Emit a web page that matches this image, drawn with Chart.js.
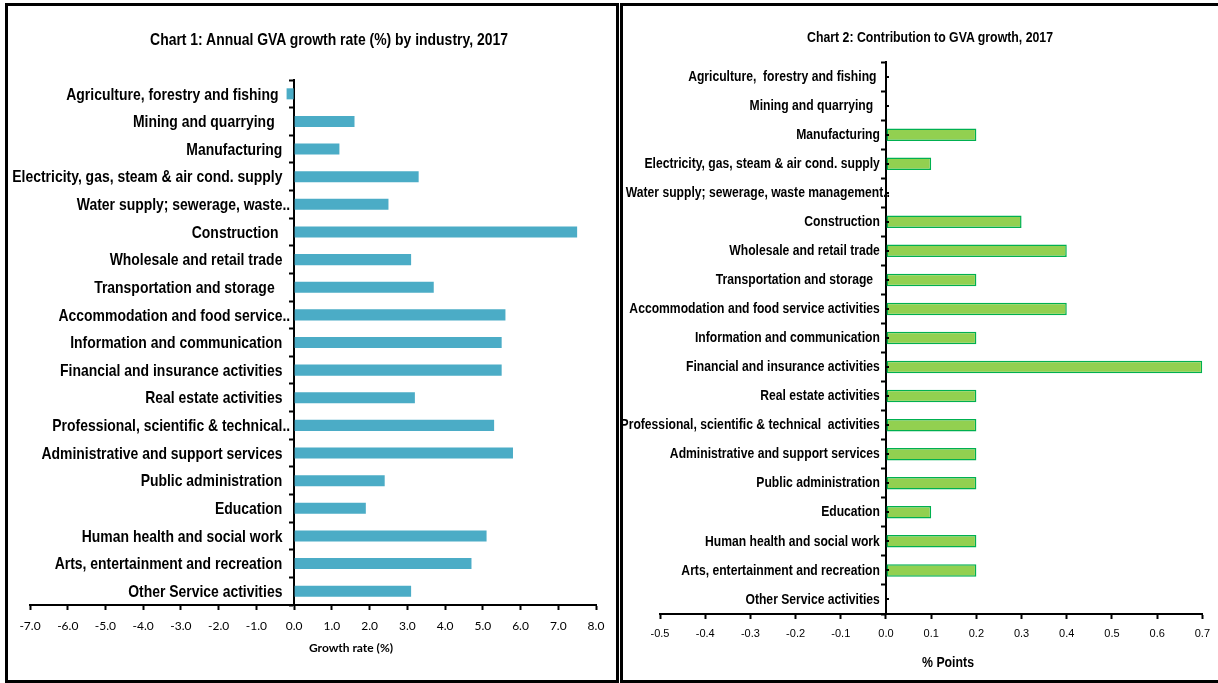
<!DOCTYPE html>
<html>
<head>
<meta charset="utf-8">
<title>GVA growth by industry, 2017</title>
<script src="https://cdn.jsdelivr.net/npm/chart.js@4.4.1/dist/chart.umd.min.js"></script>
<style>
  html, body { margin: 0; padding: 0; background: #fff; }
  body { width: 1218px; height: 683px; position: relative; overflow: hidden; }
  canvas { position: absolute; top: 0; }
  #c1 { left: 0; }
  #c2 { left: 622px; }
  .panel { position: absolute; box-sizing: border-box; border: 3px solid #000; pointer-events: none; }
  #p1 { left: 5px; top: 3px; width: 614px; height: 680px; }
  #p2 { left: 620px; top: 3px; width: 610px; height: 680px; border-right: none; }
  .txt { position: absolute; white-space: nowrap; text-align: center; color: #000; }
  /* Arial Narrow look: Liberation Sans squeezed horizontally */
  .narrow { font-family: "Liberation Sans", Arial, sans-serif; font-weight: bold; transform: scaleX(0.82); transform-origin: 50% 50%; }
  #t1 { left: 79px; width: 500px; top: 30px; font-size: 17px; line-height: 20px; }
  #t2 { left: 730px; width: 400px; top: 28px; font-size: 15px; line-height: 18px; }
  #a1 { left: 251px; width: 200px; top: 640px; font-family: Lato, sans-serif; font-weight: bold; font-size: 12px; line-height: 16px; }
  #a2 { left: 848px; width: 200px; top: 653px; font-size: 15px; line-height: 18px; }
</style>
</head>
<body>
<canvas id="c1" width="617" height="683"></canvas>
<canvas id="c2" width="596" height="683"></canvas>
<div class="panel" id="p1"></div>
<div class="panel" id="p2"></div>
<div class="txt narrow" id="t1">Chart 1: Annual GVA growth rate (%) by industry, 2017</div>
<div class="txt narrow" id="t2">Chart 2: Contribution to GVA growth, 2017</div>
<div class="txt" id="a1">Growth rate (%)</div>
<div class="txt narrow" id="a2">% Points</div>
<script>
// Industries as labelled on the growth-rate chart
const growthIndustries = [
  'Agriculture, forestry and fishing ',
  'Mining and quarrying  ',
  'Manufacturing',
  'Electricity, gas, steam & air cond. supply',
  'Water supply; sewerage, waste..',
  'Construction ',
  'Wholesale and retail trade',
  'Transportation and storage  ',
  'Accommodation and food service..',
  'Information and communication',
  'Financial and insurance activities',
  'Real estate activities',
  'Professional, scientific & technical..',
  'Administrative and support services',
  'Public administration',
  'Education',
  'Human health and social work',
  'Arts, entertainment and recreation',
  'Other Service activities'
];

// Annual GVA growth rate, %
const growthRates = [-0.2, 1.6, 1.2, 3.3, 2.5, 7.5, 3.1, 3.7, 5.6, 5.5, 5.5, 3.2, 5.3, 5.8, 2.4, 1.9, 5.1, 4.7, 3.1];

// Industries as labelled on the contribution chart
const contributionIndustries = [
  'Agriculture,  forestry and fishing ',
  'Mining and quarrying  ',
  'Manufacturing',
  'Electricity, gas, steam & air cond. supply',
  'Water supply; sewerage, waste management..',
  'Construction',
  'Wholesale and retail trade',
  'Transportation and storage  ',
  'Accommodation and food service activities',
  'Information and communication',
  'Financial and insurance activities',
  'Real estate activities',
  'Professional, scientific & technical  activities',
  'Administrative and support services',
  'Public administration',
  'Education',
  'Human health and social work',
  'Arts, entertainment and recreation',
  'Other Service activities'
];

// Contribution to GVA growth, percentage points
const contributions = [0, 0, 0.2, 0.1, 0, 0.3, 0.4, 0.2, 0.4, 0.2, 0.7, 0.2, 0.2, 0.2, 0.2, 0.1, 0.2, 0.2, 0];

// Axis ranges and tick steps
const growthAxis = { min: -7, max: 8, step: 1 };
const contributionAxis = { min: -0.5, max: 0.7, step: 0.1 };

// Labels cut short with ".." run right up to the axis; the rest sit a little further back.
const padLabel = (text, gap) => text.endsWith('..') ? text : text + gap;

// Category names drawn in a condensed bold face, right-aligned against the zero axis
const industryLabels = {
  id: 'industryLabels',
  afterDraw(chart, args, opts) {
    const { ctx, scales: { x, y } } = chart;
    const x0 = x.getPixelForValue(0);
    ctx.save();
    ctx.fillStyle = '#000';
    ctx.font = `bold ${opts.size}px "Liberation Sans", Arial, sans-serif`;
    ctx.textAlign = 'right';
    ctx.textBaseline = 'middle';
    chart.data.labels.forEach((name, i) => {
      const py = y.getPixelForValue(i) + opts.dy;
      ctx.save();
      ctx.translate(x0 + opts.shift, py);
      ctx.scale(opts.squeeze, 1);
      ctx.fillText(padLabel(name, opts.gap), 0, 0);
      ctx.restore();
    });
    ctx.restore();
  }
};

// Small marks at each category centre on the right of the zero axis
const centreMarks = {
  id: 'centreMarks',
  afterDatasetsDraw(chart, args, opts) {
    if (!opts.enabled) return;
    const { ctx, scales: { x, y } } = chart;
    const x0 = x.getPixelForValue(0);
    ctx.save();
    ctx.strokeStyle = '#000';
    ctx.lineWidth = 2;
    chart.data.labels.forEach((_, i) => {
      const py = Math.round(y.getPixelForValue(i));
      ctx.beginPath();
      ctx.moveTo(x0, py);
      ctx.lineTo(x0 + 3, py);
      ctx.stroke();
    });
    ctx.restore();
  }
};

function makeChart(canvasId, cfg) {
  return new Chart(document.getElementById(canvasId), {
    type: 'bar',
    data: {
      labels: cfg.labels,
      datasets: [{
        data: cfg.values,
        backgroundColor: cfg.fill,
        borderColor: cfg.stroke,
        borderWidth: cfg.strokeWidth,
        borderSkipped: false,
        barPercentage: cfg.barPct,
        categoryPercentage: 1
      }]
    },
    plugins: [centreMarks, industryLabels],
    options: {
      indexAxis: 'y',
      responsive: false,
      animation: false,
      events: [],
      layout: { padding: cfg.padding },
      plugins: {
        legend: { display: false },
        tooltip: { enabled: false },
        title: { display: false },
        centreMarks: { enabled: cfg.centreMarks },
        industryLabels: cfg.labelStyle
      },
      scales: {
        x: {
          type: 'linear',
          position: 'bottom',
          min: cfg.axis.min,
          max: cfg.axis.max,
          afterFit(scale) { scale.height = cfg.xAxisHeight; },
          afterBuildTicks(scale) {
            const t = [];
            const n = Math.round((cfg.axis.max - cfg.axis.min) / cfg.axis.step);
            for (let i = 0; i <= n; i++) t.push({ value: +(cfg.axis.min + i * cfg.axis.step).toFixed(4) });
            scale.ticks = t;
          },
          grid: {
            display: true,
            drawOnChartArea: false,
            drawTicks: true,
            tickLength: 5,
            tickWidth: 2,
            tickColor: '#000'
          },
          border: { display: true, color: '#000', width: 2 },
          ticks: {
            color: '#000',
            padding: cfg.xTickPad,
            maxRotation: 0,
            autoSkip: false,
            font: cfg.xTickFont,
            callback: v => Number(v).toFixed(1)
          }
        },
        y: {
          type: 'category',
          position: { x: 0 },
          offset: true,
          grid: {
            display: true,
            offset: true,
            drawOnChartArea: false,
            drawTicks: true,
            tickLength: 4,
            tickWidth: 2,
            tickColor: '#000'
          },
          border: { display: true, color: '#000', width: 2 },
          ticks: { display: false, autoSkip: false }
        }
      }
    }
  });
}

makeChart('c1', {
  labels: growthIndustries,
  values: growthRates,
  axis: growthAxis,
  fill: '#4BACC6',
  stroke: '#4BACC6',
  strokeWidth: 0,
  barPct: 0.4,
  padding: { left: 30, right: 21, top: 80, bottom: 0 },
  xAxisHeight: 78,
  xTickPad: 9,
  xTickFont: { family: 'Lato, sans-serif', size: 12 },
  labelStyle: { size: 17, squeeze: 0.82, shift: -4, dy: 1, gap: '  ' },
  centreMarks: false
});

makeChart('c2', {
  labels: contributionIndustries,
  values: contributions,
  axis: contributionAxis,
  fill: '#92D050',
  stroke: '#00B050',
  strokeWidth: 1.5,
  barPct: 0.43,
  padding: { left: 38, right: 11, top: 62, bottom: 0 },
  xAxisHeight: 69,
  xTickPad: 8,
  xTickFont: { family: '"Liberation Sans", Arial, sans-serif', size: 11 },
  labelStyle: { size: 15, squeeze: 0.81, shift: 4, dy: 0, gap: '   ' },
  centreMarks: true
});
</script>
</body>
</html>
